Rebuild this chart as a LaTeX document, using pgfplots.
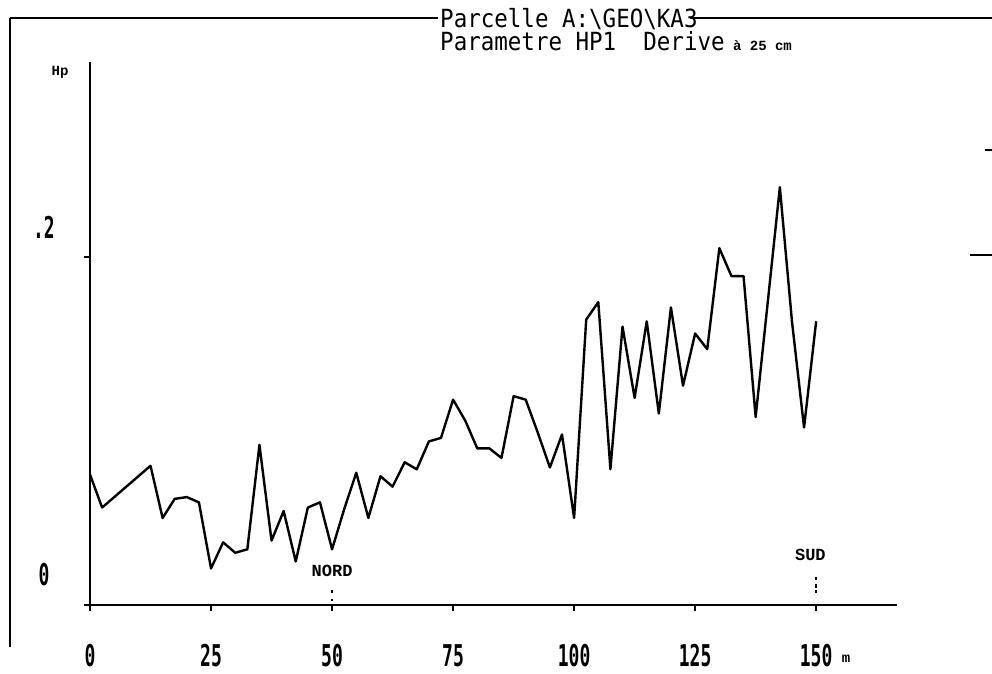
\documentclass[border=0pt]{standalone}
\usepackage{pgfplots}
\pgfplotsset{compat=1.18}
\usepackage{fontspec}
\setmainfont{DejaVu Sans Mono}
\newfontfamily\titlefont[FakeStretch=0.9]{DejaVu Sans Mono}
\newfontfamily\tickfont[FakeStretch=0.6]{DejaVu Sans Mono}
\newfontfamily\smallfont{Liberation Mono}

\pgfplotstableread{
x     hp
0     0.075
2.5   0.056
5     0.062
7.5   0.068
10    0.074
12.5  0.080
15    0.050
17.5  0.061
20    0.062
22.5  0.059
25    0.021
27.5  0.036
30    0.030
32.5  0.032
35    0.092
37.5  0.037
40    0.054
42.5  0.025
45    0.056
47.5  0.059
50    0.032
52.5  0.055
55    0.076
57.5  0.050
60    0.074
62.5  0.068
65    0.082
67.5  0.078
70    0.094
72.5  0.096
75    0.118
77.5  0.106
80    0.090
82.5  0.090
85    0.0845
87.5  0.120
90    0.118
92.5  0.099
95    0.079
97.5  0.098
100   0.050
102.5 0.164
105   0.174
107.5 0.078
110   0.160
112.5 0.119
115   0.163
117.5 0.110
120   0.171
122.5 0.126
125   0.156
127.5 0.147
130   0.205
132.5 0.189
135   0.189
137.5 0.108
140   0.174
142.5 0.240
145   0.163
147.5 0.102
150   0.163
}\hpdata

\begin{document}
\begin{tikzpicture}
\path[use as bounding box] (0pt,0pt) rectangle (992pt,673pt);

% page frame
\draw[line width=2pt] (10pt,655pt) -- (10pt,26pt);
\draw[line width=2.2pt] (10pt,655pt) -- (438pt,655pt);
\draw[line width=2.8pt] (690pt,655pt) -- (992pt,655pt);
\draw[line width=1.6pt] (985pt,523pt) -- (992pt,523pt);
\draw[line width=1.6pt] (970pt,418pt) -- (992pt,418pt);

% heading
\node[anchor=base west, inner sep=0pt, font=\titlefont\fontsize{25}{25}\selectfont]
  at (440pt,645pt) {Parcelle A:\textbackslash GEO\textbackslash KA3};
\node[anchor=base west, inner sep=0pt, font=\titlefont\fontsize{25}{25}\selectfont]
  at (440pt,622pt) {Parametre HP1\ \ Derive{\smallfont\bfseries\fontsize{14}{14}\selectfont\ à 25 cm}};

\node[font=\smallfont\bfseries\fontsize{14}{14}\selectfont] at (60pt,601pt) {Hp};
\node[font=\smallfont\bfseries\fontsize{14}{14}\selectfont] at (846pt,14pt) {m};

\begin{axis}[
  at={(90pt,68pt)}, anchor=south west,
  scale only axis, width=807pt, height=543pt,
  xmin=0, xmax=166.7, ymin=0, ymax=0.312,
  axis lines=left,
  axis line style={-},
  x axis line style={line width=2.6pt},
  y axis line style={line width=1.8pt},
  xtick={0,25,...,150},
  xticklabels={0,25,50,75,100,125,150},
  ytick={0,0.2},
  yticklabels={0,.2},
  tick align=outside,
  major tick length=6pt,
  tick style={black, line width=1.5pt},
  xticklabel style={anchor=center, yshift=-45pt,
    font=\tickfont\bfseries\fontsize{30}{30}\selectfont},
  yticklabel style={anchor=center, xshift=-40pt, yshift=30pt,
    font=\tickfont\bfseries\fontsize{30}{30}\selectfont},
  clip=false,
]
\addplot[black, line width=2.4pt, line join=round] table[x=x, y=hp] {\hpdata};

\node[font=\smallfont\bfseries\fontsize{17}{17}\selectfont] at (axis cs:50,0.0195) {NORD};
\node[font=\smallfont\bfseries\fontsize{17}{17}\selectfont] at (axis cs:148.8,0.0287) {SUD};
\draw[line width=1.5pt] (axis cs:50,0.0085) -- (axis cs:50,0.0068);
\draw[line width=1.5pt] (axis cs:50,0.0035) -- (axis cs:50,0.0022);
\draw[line width=1.5pt] (axis cs:150,0.0160) -- (axis cs:150,0.0145);
\draw[line width=1.5pt] (axis cs:150,0.0118) -- (axis cs:150,0.0100);
\draw[line width=1.5pt] (axis cs:150,0.0085) -- (axis cs:150,0.0070);
\end{axis}
\end{tikzpicture}
\end{document}
